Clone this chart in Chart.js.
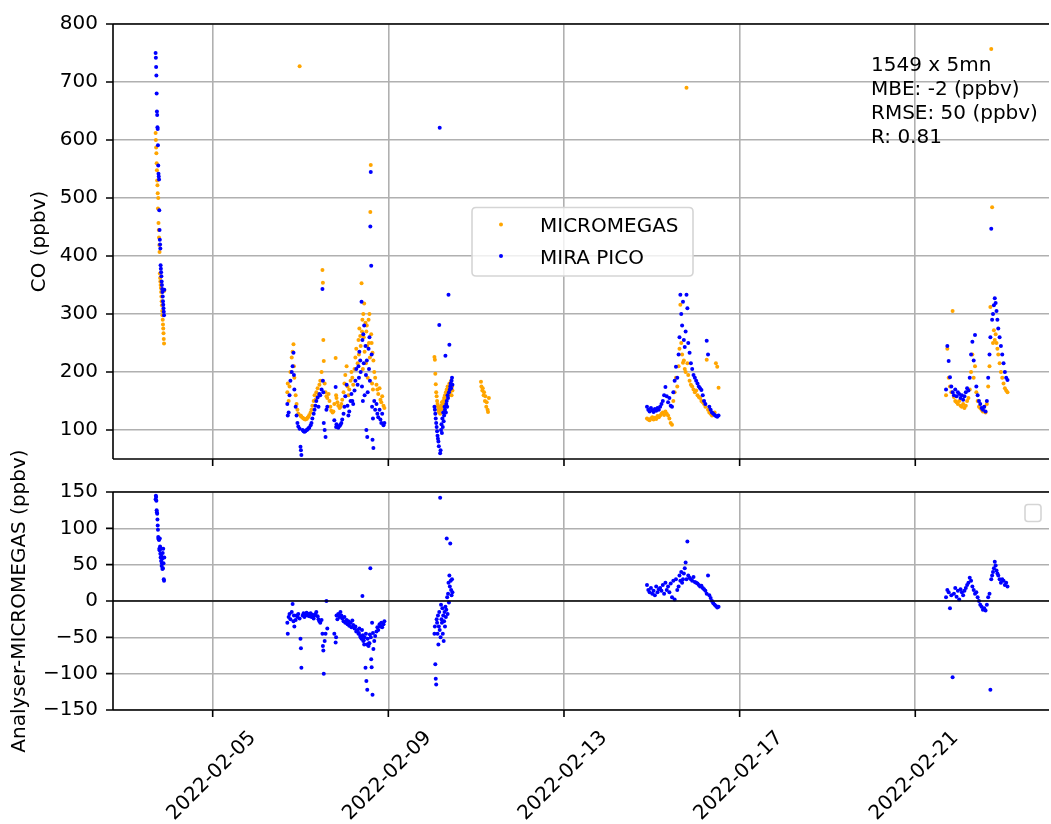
<!DOCTYPE html>
<html>
<head>
<meta charset="utf-8">
<script src="https://cdn.jsdelivr.net/npm/chart.js@4.4.0/dist/chart.umd.min.js"></script>
<style>
  body { margin: 0; background: #fff; }
  #topBox { position: absolute; left: 0; top: 0; }
  #bottomBox { position: absolute; left: 0; top: 430px; }
</style>
</head>
<body>
<div id="topBox"><canvas id="coChart" width="1051" height="475"></canvas></div>
<div id="bottomBox"><canvas id="diffChart" width="1051" height="394"></canvas></div>
<script>
// time = day of February 2022 (5.0 = 2022-02-05 00:00)
const xTickValues = [5, 9, 13, 17, 21];
const xTickLabels = ["2022-02-05", "2022-02-09", "2022-02-13", "2022-02-17", "2022-02-21"];
const coTicks = [100, 200, 300, 400, 500, 600, 700, 800];
const diffTicks = [-150, -100, -50, 0, 50, 100, 150];
const seriesNames = ["MICROMEGAS", "MIRA PICO"];
const statsLines = ["1549 x 5mn", "MBE: -2 (ppbv)", "RMSE: 50 (ppbv)", "R: 0.81"];

// Feb 3
const tA = [3.700, 3.706, 3.712, 3.718, 3.724, 3.730, 3.736, 3.742, 3.748, 3.754,
  3.760, 3.766, 3.772, 3.778, 3.784, 3.790, 3.796, 3.802, 3.808, 3.814,
  3.820, 3.826, 3.832, 3.838, 3.844, 3.850, 3.856, 3.862, 3.868, 3.874,
  3.880, 3.886, 3.892, 3.898];
const microA = [612, 600, 587, 577, 560, 548, 530, 522, 508, 482,
  500, 457, 445, 432, 419, 407, 370, 362, 356, 350,
  345, 338, 330, 322, 315, 305, 298, 290, 282, 275,
  267, 257, 249, 340];
const picoA = [750, 742, 726, 711, 680, 649, 643, 622, 619, 591,
  556, 542, 537, 532, 479, 445, 428, 420, 413, 384,
  378, 372, 365, 356, 350, 343, 338, 330, 322, 316,
  310, 304, 298, 342];
const diffA = [140, 145, 143, 138, 125, 122, 120, 112, 104, 98,
  88, 86, 85, 84, 72, 70, 86, 75, 65, 60,
  72, 55, 62, 48, 52, 58, 44, 66, 45, 72,
  52, 30, 28, 60];

// Feb 6 - 8
const tB = [6.70, 6.71, 6.73, 6.75, 6.77, 6.80, 6.82, 6.84, 6.85, 6.86,
  6.89, 6.91, 6.93, 6.95, 6.98, 7.00, 7.01, 7.02, 7.05, 7.07,
  7.09, 7.11, 7.14, 7.16, 7.18, 7.20, 7.23, 7.25, 7.27, 7.30,
  7.32, 7.34, 7.36, 7.39, 7.41, 7.43, 7.45, 7.48, 7.50, 7.51,
  7.52, 7.53, 7.55, 7.57, 7.59, 7.61, 7.64, 7.66, 7.68, 7.70,
  7.73, 7.75, 7.77, 7.80, 7.81, 7.82, 7.84, 7.86, 7.89, 7.91,
  7.93, 7.95, 7.98, 8.00, 8.02, 8.05, 8.07, 8.09, 8.11, 8.14,
  8.16, 8.18, 8.20, 8.23, 8.25, 8.27, 8.30, 8.32, 8.33, 8.34,
  8.36, 8.37, 8.39, 8.40, 8.41, 8.42, 8.43, 8.44, 8.45, 8.46,
  8.48, 8.49, 8.50, 8.51, 8.52, 8.53, 8.55, 8.56, 8.57, 8.58,
  8.59, 8.60, 8.61, 8.62, 8.63, 8.64, 8.65, 8.66, 8.68, 8.70,
  8.73, 8.75, 8.77, 8.80, 8.82, 8.84, 8.86, 8.89, 8.91];
const microB = [165, 180, 150, 175, 200, 225, 235, 248, 210, 190,
  160, 145, 135, 128, 727, 125, 124, 123, 121, 120,
  119, 118, 119, 121, 123, 126, 130, 135, 142, 150,
  160, 152, 165, 172, 160, 178, 185, 200, 376, 354,
  255, 219, 180, 165, 158, 155, 162, 150, 140, 133,
  130, 132, 145, 224, 160, 155, 148, 142, 138, 140,
  145, 152, 165, 180, 195, 210, 175, 160, 170, 185,
  200, 190, 178, 205, 225, 240, 215, 255, 230, 275,
  262, 245, 353, 270, 290, 205, 300, 260, 318, 235,
  285, 215, 270, 280, 245, 190, 290, 250, 300, 225,
  476, 557, 265, 250, 180, 233, 170, 220, 200, 190,
  178, 170, 162, 172, 152, 148, 158, 142, 138];
const picoB = [145, 125, 130, 160, 185, 200, 210, 233, 195, 170,
  140, 125, 112, 106, 102, 71, 65, 57, 100, 98,
  97, 98, 100, 101, 103, 104, 108, 112, 120, 128,
  135, 142, 150, 156, 140, 162, 160, 170, 343, 185,
  165, 112, 100, 88, 135, 140, null, null, null, null,
  null, null, 117, 174, 105, 110, 106, 104, 107, 109,
  112, 118, 128, 140, 158, 178, 142, 125, 132, 150,
  162, 150, 145, 168, 185, 205, 178, 210, 190, 235,
  220, 200, 321, 175, 255, 150, 265, 215, 280, 160,
  245, 195, 100, 220, 88, 165, 240, 205, 260, 185,
  451, 545, 383, 230, 140, 83, 120, 69, 150, 135,
  145, 128, 122, 135, 118, 112, 128, 108, 112];
const diffB = [-30, -45, -22, -18, -25, -15, -4, -28, -20, -35,
  -26, -20, -22, -18, -24, -52, -65, -92, -20, -17,
  -22, -19, -16, -20, -18, -21, -17, -22, -19, -24,
  -20, -18, -15, -21, -25, -28, -30, -26, -45, -62,
  -68, -100, -55, -45, 0, -38, null, null, null, null,
  null, null, -45, -57, -50, -20, -25, -18, -22, -15,
  -20, -24, -28, -22, -30, -26, -32, -28, -34, -30,
  -36, -27, -33, -38, -35, -42, -40, -45, -44, -38,
  -48, -50, -52, -40, 7, -47, -55, -54, -60, -50,
  -92, -45, -110, -60, -122, -52, -62, -58, -58, -46,
  45, -50, -80, -91, -30, -129, -44, -66, -55, -48,
  -42, -36, -40, -32, -35, -30, -36, -32, -28];

// Feb 10
const tC = [10.05, 10.06, 10.07, 10.08, 10.09, 10.10, 10.11, 10.12, 10.13, 10.14,
  10.15, 10.16, 10.17, 10.18, 10.19, 10.20, 10.21, 10.22, 10.23, 10.24,
  10.25, 10.26, 10.27, 10.28, 10.29, 10.30, 10.31, 10.32, 10.33, 10.34,
  10.35, 10.36, 10.37, 10.38, 10.39, 10.40, 10.41, 10.42, 10.43, 10.44,
  10.45, 10.46];
const microC = [226, 221, 197, 179, 165, 158, 150, 145, 140, 135,
  132, 130, 138, 128, 135, 142, 140, 148, 135, 145,
  150, 142, 155, 148, 160, 152, 165, 158, 170, 162,
  175, 168, 160, 172, 180, 165, 178, 170, 185, 160,
  175, 168];
const picoC = [140, 135, 128, 120, 112, 105, 98, 90, 85, 80,
  72, 281, 621, 60, 65, 100, 110, 95, 120, 105,
  130, 115, 125, 140, 135, 228, 130, 145, 150, 140,
  160, 155, 333, 165, 247, 170, 175, 180, 172, 185,
  190, 178];
const diffC = [-45, -35, -87, -107, -115, -25, -30, -45, -20, -60,
  -35, -15, -40, 142, -50, -5, -25, -30, -10, -45,
  -20, -55, -28, -15, -35, -8, -22, -12, 86, 5,
  -18, 10, 25, -2, 35, 20, 79, 28, 15, 8,
  30, 12];

// Feb 11, MICROMEGAS only
const tD = [11.11, 11.12, 11.14, 11.15, 11.17, 11.18, 11.20, 11.21, 11.23, 11.24, 11.26, 11.27, 11.29];
const microD = [183, 175, 168, 172, 160, 165, 150, 158, 140, 148, 135, 131, 155];

// Feb 14 - 16
const tE = [14.89, 14.92, 14.95, 14.98, 15.01, 15.04, 15.07, 15.10, 15.13, 15.16,
  15.19, 15.22, 15.25, 15.28, 15.31, 15.34, 15.37, 15.40, 15.43, 15.46,
  15.49, 15.52, 15.55, 15.58, 15.61, 15.63, 15.65, 15.67, 15.69, 15.71,
  15.73, 15.75, 15.77, 15.79, 15.81, 15.83, 15.86, 15.89, 15.92, 15.95,
  15.98, 16.01, 16.04, 16.07, 16.10, 16.13, 16.16, 16.19, 16.22, 16.25,
  16.28, 16.31, 16.34, 16.37, 16.40, 16.43, 16.46, 16.49, 16.52];
const microE = [120, 118, 117, 120, 122, 118, 121, 119, 124, 122,
  125, 128, 130, 126, 132, 128, 125, 120, 112, 109,
  150, 165, 190, 175, 210, 240, 316, 250, 230, 216,
  220, 205, 200, 690, 215, 195, 185, 178, 175, 170,
  165, 168, 160, 157, 155, 150, 148, 145, 140, 221,
  135, 130, 128, 125, 127, 130, 215, 209, 173];
const picoE = [140, 135, 132, 138, 134, 131, 136, 133, 138, 135,
  140, 145, 150, 160, 174, 158, 148, 155, 142, 140,
  165, 185, 209, 190, 230, 260, 333, 300, 280, 321,
  255, 243, 270, 333, 310, 250, 233, 215, 205, 195,
  190, 185, 180, 175, 172, 169, 160, 150, 145, 254,
  230, 140, 135, 130, 128, 126, 124, 123, 125];
const diffE = [22, 15, 12, 18, 10, 14, 8, 20, 12, 16,
  18, 14, 22, 10, 25, 15, 20, 12, 24, 5,
  28, 2, 30, 15, 20, 35, 28, 40, 25, 30,
  38, 45, 53, 30, 82, 35, 32, 30, 28, 33,
  26, 25, 24, 22, 20, 21, 18, 16, 14, 10,
  35, 8, 4, 0, -3, -5, -7, -9, -8];

// Feb 21 - 23
const tF = [21.70, 21.73, 21.76, 21.79, 21.82, 21.85, 21.88, 21.91, 21.94, 21.97,
  22.00, 22.03, 22.06, 22.09, 22.12, 22.15, 22.18, 22.21, 22.24, 22.27,
  22.30, 22.33, 22.36, 22.39, 22.42, 22.45, 22.48, 22.51, 22.54, 22.57,
  22.60, 22.63, 22.66, 22.69, 22.71, 22.73, 22.75, 22.77, 22.79, 22.81,
  22.83, 22.85, 22.87, 22.89, 22.92, 22.95, 22.98, 23.01, 23.04, 23.07,
  23.10];
const microF = [160, 240, 190, 175, 165, 305, 157, 150, 148, 145,
  150, 142, 140, 145, 138, 142, 150, 155, 170, 200,
  230, 190, 210, 165, 150, 140, 138, 135, 132, 140,
  130, 145, 175, 210, 312, 757, 484, 250, 272, 255,
  265, 250, 240, 230, 215, 200, 190, 180, 172, 168,
  165];
const picoF = [170, 245, 219, 191, 175, 165, 160, 170, 158, 165,
  162, 155, 160, 152, 158, 165, 172, 168, 190, 230,
  252, 220, 264, 175, 160, 150, 145, 138, 135, 140,
  132, 150, 190, 230, 260, 447, 290, 300, 315, 327,
  319, 305, 290, 275, 260, 245, 230, 215, 200, 190,
  186];
const diffF = [5, 15, 12, -10, 8, -105, 10, 18, 6, 14,
  2, 16, 12, 8, 14, 18, 22, 25, 32, 28,
  20, 15, 10, 12, 5, 0, -5, -8, -12, -10,
  -13, -5, 5, 10, -122, 30, 35, 40, 45, 54,
  49, 42, 38, 35, 30, 25, 30, 28, 22, 25,
  20];

const times = [].concat(tA, tB, tC, tE, tF);
const micromegas = [].concat(microA, microB, microC, microE, microF);
const miraPico = [].concat(picoA, picoB, picoC, picoE, picoF);
const difference = [].concat(diffA, diffB, diffC, diffE, diffF);

const toPoints = (ts, vs) => ts.map((t, i) => ({ x: t, y: vs[i] })).filter(p => p.y !== null && p.y !== undefined);
const microPoints = toPoints(times, micromegas).concat(toPoints(tD, microD));
const picoPoints = toPoints(times, miraPico);
const diffPoints = toPoints(times, difference);

Chart.defaults.font.family = "'DejaVu Sans', sans-serif";
Chart.defaults.font.size = 20;
Chart.defaults.color = "#000";

const X_MIN = 2.73;
const X_MAX = 24.045;
const GRID = "#b0b0b0";

// black box + outward ticks like matplotlib
const frame = {
  id: "frame",
  afterDatasetsDraw(chart, args, opts) {
    const { ctx, chartArea: a, scales } = chart;
    ctx.save();
    ctx.strokeStyle = "#000";
    ctx.lineWidth = 1.6;
    ctx.beginPath();
    if (opts.zeroLine) {
      const y0 = scales.y.getPixelForValue(0);
      ctx.moveTo(a.left, y0);
      ctx.lineTo(a.right, y0);
    }
    ctx.moveTo(a.left, a.top);
    ctx.lineTo(a.right, a.top);
    ctx.moveTo(a.left, a.top);
    ctx.lineTo(a.left, a.bottom);
    ctx.moveTo(a.left, a.bottom);
    ctx.lineTo(a.right, a.bottom);
    scales.x.ticks.forEach(t => {
      const x = scales.x.getPixelForValue(t.value);
      ctx.moveTo(x, a.bottom);
      ctx.lineTo(x, a.bottom + 7);
    });
    scales.y.ticks.forEach(t => {
      const y = scales.y.getPixelForValue(t.value);
      ctx.moveTo(a.left - 7, y);
      ctx.lineTo(a.left, y);
    });
    ctx.stroke();
    ctx.restore();
  }
};

function roundBox(ctx, x, y, w, h, r) {
  ctx.beginPath();
  ctx.moveTo(x + r, y);
  ctx.lineTo(x + w - r, y);
  ctx.quadraticCurveTo(x + w, y, x + w, y + r);
  ctx.lineTo(x + w, y + h - r);
  ctx.quadraticCurveTo(x + w, y + h, x + w - r, y + h);
  ctx.lineTo(x + r, y + h);
  ctx.quadraticCurveTo(x, y + h, x, y + h - r);
  ctx.lineTo(x, y + r);
  ctx.quadraticCurveTo(x, y, x + r, y);
  ctx.closePath();
}

const topExtras = {
  id: "topExtras",
  afterDraw(chart) {
    const ctx = chart.ctx;
    ctx.save();
    // legend
    roundBox(ctx, 472, 207.5, 221, 68.5, 4);
    ctx.fillStyle = "rgba(255,255,255,0.8)";
    ctx.fill();
    ctx.strokeStyle = "#d5d5d5";
    ctx.lineWidth = 1.6;
    ctx.stroke();
    ctx.font = "20px 'DejaVu Sans'";
    ctx.textBaseline = "alphabetic";
    ctx.textAlign = "left";
    chart.data.datasets.forEach((ds, i) => {
      const yc = 224.5 + i * 31.5;
      ctx.fillStyle = ds.backgroundColor;
      ctx.beginPath();
      ctx.arc(501, yc, 2, 0, Math.PI * 2);
      ctx.fill();
      ctx.fillStyle = "#000";
      ctx.fillText(ds.label, 540, yc + 7.5);
    });
    // stats text
    statsLines.forEach((s, i) => ctx.fillText(s, 871, 71 + i * 24));
    ctx.restore();
  }
};

const bottomExtras = {
  id: "bottomExtras",
  afterDraw(chart) {
    const { ctx, chartArea: a, scales } = chart;
    ctx.save();
    // empty legend box
    roundBox(ctx, 1025, 74.5, 16, 17, 3);
    ctx.fillStyle = "rgba(255,255,255,0.8)";
    ctx.fill();
    ctx.strokeStyle = "#d5d5d5";
    ctx.lineWidth = 1.6;
    ctx.stroke();
    // rotated date labels
    ctx.fillStyle = "#000";
    ctx.font = "20px 'DejaVu Sans'";
    ctx.textAlign = "center";
    ctx.textBaseline = "middle";
    xTickValues.forEach((v, i) => {
      const x = scales.x.getPixelForValue(v);
      ctx.save();
      ctx.translate(x - 1, a.bottom + 66);
      ctx.rotate(-Math.PI / 4);
      ctx.fillText(xTickLabels[i], 0, 0);
      ctx.restore();
    });
    ctx.restore();
  }
};

const xScale = (height) => ({
  type: "linear",
  min: X_MIN,
  max: X_MAX,
  afterBuildTicks: s => { s.ticks = xTickValues.map(v => ({ value: v })); },
  afterFit: s => { s.height = height; s.paddingLeft = 0; s.paddingRight = 0; },
  grid: { color: GRID, lineWidth: 1.6, drawTicks: false },
  border: { display: false },
  ticks: { display: false }
});

const yScale = (min, max, tickValues, title, titlePad) => ({
  min: min,
  max: max,
  afterBuildTicks: s => { s.ticks = tickValues.map(v => ({ value: v })); },
  afterFit: s => { s.width = 113; s.paddingTop = 0; s.paddingBottom = 0; },
  grid: { color: GRID, lineWidth: 1.6, drawTicks: false },
  border: { display: false },
  ticks: {
    padding: 15,
    color: "#000",
    font: { size: 20 },
    callback: v => String(v).replace("-", "\u2212")
  },
  title: {
    display: true,
    text: title,
    color: "#000",
    font: { size: 20 },
    padding: { top: titlePad, bottom: 0 }
  }
});

const pointStyle = { pointRadius: 2, pointBorderWidth: 0, pointHoverRadius: 2 };

new Chart(document.getElementById("coChart"), {
  type: "scatter",
  data: {
    datasets: [
      Object.assign({ label: seriesNames[0], data: microPoints, backgroundColor: "#ffa500", borderColor: "#ffa500", order: 2 }, pointStyle),
      Object.assign({ label: seriesNames[1], data: picoPoints, backgroundColor: "#0000ff", borderColor: "#0000ff", order: 1 }, pointStyle)
    ]
  },
  options: {
    responsive: false,
    animation: false,
    events: [],
    layout: { padding: { top: 24, right: 0, left: 0, bottom: 0 } },
    plugins: { legend: { display: false }, tooltip: { enabled: false } },
    scales: {
      x: xScale(16),
      y: yScale(50, 800, coTicks, "CO (ppbv)", 28)
    }
  },
  plugins: [frame, topExtras]
});

new Chart(document.getElementById("diffChart"), {
  type: "scatter",
  data: {
    datasets: [
      Object.assign({ label: "Analyser-MICROMEGAS", data: diffPoints, backgroundColor: "#0000ff", borderColor: "#0000ff" }, pointStyle)
    ]
  },
  options: {
    responsive: false,
    animation: false,
    events: [],
    layout: { padding: { top: 62, right: 0, left: 0, bottom: 0 } },
    plugins: { legend: { display: false }, tooltip: { enabled: false }, frame: { zeroLine: true } },
    scales: {
      x: xScale(114),
      y: yScale(-150, 150, diffTicks, "Analyser-MICROMEGAS (ppbv)", 8)
    }
  },
  plugins: [frame, bottomExtras]
});
</script>
</body>
</html>
